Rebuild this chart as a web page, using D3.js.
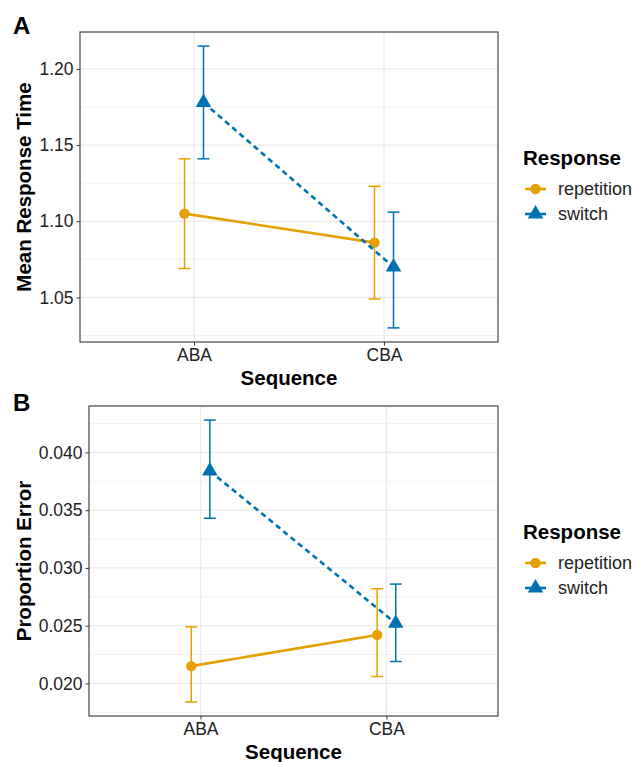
<!DOCTYPE html>
<html>
<head>
<meta charset="utf-8">
<script src="https://cdn.jsdelivr.net/npm/d3@7"></script>
<style>
  body { margin: 0; background: #fff; }
  svg { font-family: "Liberation Sans", Arial, sans-serif; }
</style>
</head>
<body>
<svg width="633" height="762"></svg>
<script>
// data
var sequences = ["ABA", "CBA"];
var responses = ["repetition", "switch"];
var colors = ["#E69F00", "#0072B2"];

// panel A: mean response time
var rtMean  = { repetition: [1.105, 1.086], "switch": [1.178, 1.070] };
var rtLow   = { repetition: [1.069, 1.049], "switch": [1.141, 1.030] };
var rtHigh  = { repetition: [1.141, 1.123], "switch": [1.215, 1.106] };
var rtTicks = [1.05, 1.10, 1.15, 1.20];

// panel B: proportion error
var errMean  = { repetition: [0.0215, 0.0242], "switch": [0.0384, 0.0252] };
var errLow   = { repetition: [0.0184, 0.0206], "switch": [0.0343, 0.0219] };
var errHigh  = { repetition: [0.0249, 0.0282], "switch": [0.0428, 0.0286] };
var errTicks = [0.020, 0.025, 0.030, 0.035, 0.040];

var svg = d3.select("svg");

function panel(opt) {
  var g = svg.append("g");
  var L = opt.left, T = opt.top, R = opt.right, B = opt.bottom;

  // ggplot-like discrete x: 0.6 expansion on each side
  var x = d3.scaleLinear().domain([0.4, 2.6]).range([L, R]);
  var allVals = [];
  responses.forEach(function(r) { allVals = allVals.concat(opt.low[r], opt.high[r]); });
  var lo = d3.min(allVals), hi = d3.max(allVals), pad = (hi - lo) * 0.05;
  var y = d3.scaleLinear().domain([lo - pad, hi + pad]).range([B, T]);

  // minor grid
  var minor = [];
  for (var i = 0; i < opt.ticks.length + 1; i++) {
    var step = opt.ticks[1] - opt.ticks[0];
    minor.push(opt.ticks[0] - step / 2 + i * step);
  }
  g.selectAll(".minor").data(minor.filter(function(d) { return d > y.domain()[0] && d < y.domain()[1]; }))
    .enter().append("line")
    .attr("x1", L).attr("x2", R)
    .attr("y1", function(d) { return y(d); }).attr("y2", function(d) { return y(d); })
    .attr("stroke", "#f2f2f2").attr("stroke-width", 1);

  // major grid
  g.selectAll(".major").data(opt.ticks).enter().append("line")
    .attr("x1", L).attr("x2", R)
    .attr("y1", function(d) { return y(d); }).attr("y2", function(d) { return y(d); })
    .attr("stroke", "#ebebeb").attr("stroke-width", 1.3);
  g.selectAll(".vgrid").data(sequences).enter().append("line")
    .attr("x1", function(d, i) { return x(i + 1); }).attr("x2", function(d, i) { return x(i + 1); })
    .attr("y1", T).attr("y2", B)
    .attr("stroke", "#ebebeb").attr("stroke-width", 1.3);

  var dodge = 0.05;
  responses.forEach(function(r, ri) {
    var off = ri === 0 ? -dodge : dodge;
    var col = colors[ri];
    var pts = sequences.map(function(s, si) {
      return { x: x(si + 1 + off), m: opt.mean[r][si], lo: opt.low[r][si], hi: opt.high[r][si] };
    });
    // line
    g.append("path")
      .attr("d", d3.line().x(function(d) { return d.x; }).y(function(d) { return y(d.m); })(pts))
      .attr("fill", "none").attr("stroke", col).attr("stroke-width", 2.6)
      .attr("stroke-dasharray", ri === 1 ? "5.5,4" : null);
    // error bars
    var eb = g.selectAll(".eb" + ri).data(pts).enter().append("g").attr("stroke", col).attr("stroke-width", 1.5);
    eb.append("line").attr("x1", function(d) { return d.x; }).attr("x2", function(d) { return d.x; })
      .attr("y1", function(d) { return y(d.lo); }).attr("y2", function(d) { return y(d.hi); });
    eb.append("line").attr("x1", function(d) { return d.x - 6; }).attr("x2", function(d) { return d.x + 6; })
      .attr("y1", function(d) { return y(d.lo); }).attr("y2", function(d) { return y(d.lo); });
    eb.append("line").attr("x1", function(d) { return d.x - 6; }).attr("x2", function(d) { return d.x + 6; })
      .attr("y1", function(d) { return y(d.hi); }).attr("y2", function(d) { return y(d.hi); });
    // points
    var sym = ri === 0 ? d3.symbol(d3.symbolCircle, 85) : d3.symbol(d3.symbolTriangle, 105);
    g.selectAll(".pt" + ri).data(pts).enter().append("path")
      .attr("d", sym)
      .attr("transform", function(d) { return "translate(" + d.x + "," + y(d.m) + ")"; })
      .attr("fill", col);
  });

  // border
  g.append("rect").attr("x", L).attr("y", T).attr("width", R - L).attr("height", B - T)
    .attr("fill", "none").attr("stroke", "#333").attr("stroke-width", 1.1);

  // y axis
  var ya = g.append("g").attr("transform", "translate(" + L + ",0)")
    .call(d3.axisLeft(y).tickValues(opt.ticks).tickFormat(d3.format(opt.fmt)).tickSize(3.5).tickPadding(3));
  ya.select(".domain").remove();
  ya.selectAll("line").attr("stroke", "#333");
  ya.selectAll("text").attr("font-size", 17.5).attr("fill", "#222").attr("font-family", "Liberation Sans, Arial, sans-serif");

  // x axis
  var xa = g.append("g").attr("transform", "translate(0," + B + ")")
    .call(d3.axisBottom(x).tickValues([1, 2]).tickFormat(function(d) { return sequences[d - 1]; }).tickSize(3.5).tickPadding(3));
  xa.select(".domain").remove();
  xa.selectAll("line").attr("stroke", "#333");
  xa.selectAll("text").attr("font-size", 17.5).attr("fill", "#222").attr("font-family", "Liberation Sans, Arial, sans-serif");

  // titles
  g.append("text").attr("x", (L + R) / 2).attr("y", opt.xTitleY)
    .attr("text-anchor", "middle").attr("font-size", 20.5).attr("font-weight", "bold").text("Sequence");
  g.append("text").attr("transform", "translate(" + opt.yTitleX + "," + (T + B) / 2 + ") rotate(-90)")
    .attr("text-anchor", "middle").attr("dominant-baseline", "central")
    .attr("font-size", 20.5).attr("font-weight", "bold").text(opt.yTitle);
  g.append("text").attr("x", 13).attr("y", opt.tagY)
    .attr("font-size", 24).attr("font-weight", "bold").text(opt.tag);

  // legend
  var lg = g.append("g").attr("transform", "translate(523," + opt.legendY + ")");
  lg.append("text").attr("x", 0).attr("y", 0).attr("dominant-baseline", "central")
    .attr("font-size", 20.5).attr("font-weight", "bold").text("Response");
  responses.forEach(function(r, ri) {
    var ky = 32 + ri * 25;
    lg.append("line").attr("x1", 2).attr("x2", 23).attr("y1", ky).attr("y2", ky)
      .attr("stroke", colors[ri]).attr("stroke-width", 2.6);
    var sym = ri === 0 ? d3.symbol(d3.symbolCircle, 85) : d3.symbol(d3.symbolTriangle, 105);
    lg.append("path").attr("d", sym).attr("transform", "translate(12.5," + ky + ")").attr("fill", colors[ri]);
    lg.append("text").attr("x", 35).attr("y", ky).attr("dominant-baseline", "central")
      .attr("font-size", 18).attr("fill", "#222").text(r);
  });
}

panel({ left: 80, top: 32, right: 498, bottom: 342, mean: rtMean, low: rtLow, high: rtHigh,
  ticks: rtTicks, fmt: ".2f", yTitle: "Mean Response Time", yTitleX: 23, xTitleY: 385,
  tag: "A", tagY: 34, legendY: 157 });

panel({ left: 89, top: 406, right: 498, bottom: 716, mean: errMean, low: errLow, high: errHigh,
  ticks: errTicks, fmt: ".3f", yTitle: "Proportion Error", yTitleX: 23, xTitleY: 759,
  tag: "B", tagY: 411, legendY: 531 });
</script>
</body>
</html>
